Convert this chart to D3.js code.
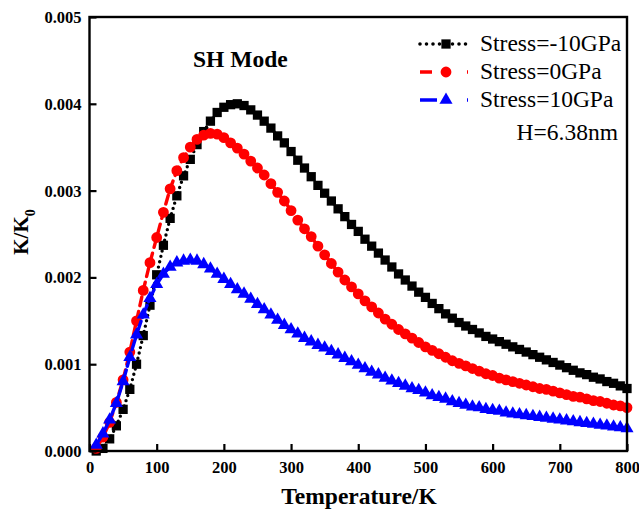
<!DOCTYPE html>
<html>
<head>
<meta charset="utf-8">
<script src="https://cdn.jsdelivr.net/npm/d3@7"></script>
<style>
  html, body { margin: 0; padding: 0; background: #fff; }
  svg { display: block; }
</style>
</head>
<body>
<svg id="chart" width="639" height="514"></svg>
<script>
// ---------------- data ----------------
const temperature = [10,20,30,40,50,60,70,80,90,100,110,120,130,140,150,160,170,180,190,200,
  210,220,230,240,250,260,270,280,290,300,310,320,330,340,350,360,370,380,390,400,
  410,420,430,440,450,460,470,480,490,500,510,520,530,540,550,560,570,580,590,600,
  610,620,630,640,650,660,670,680,690,700,710,720,730,740,750,760,770,780,790,800];

const stressMinus10 = [0.00000,0.00003,0.00014,0.00029,0.00048,0.00071,0.00100,0.00133,0.00168,0.00203,
  0.00237,0.00268,0.00294,0.00317,0.00336,0.00353,0.00368,0.00380,0.00390,0.00396,
  0.00399,0.00400,0.00398,0.00393,0.00387,0.00380,0.00372,0.00363,0.00355,0.00345,
  0.00335,0.00326,0.00316,0.00306,0.00297,0.00288,0.00279,0.00270,0.00261,0.00253,
  0.00244,0.00236,0.00228,0.00220,0.00212,0.00204,0.00197,0.00190,0.00183,0.00177,
  0.00170,0.00164,0.00158,0.00153,0.00148,0.00144,0.00140,0.00136,0.00132,0.00129,
  0.00126,0.00123,0.00120,0.00117,0.00114,0.00111,0.00108,0.00105,0.00102,0.00099,
  0.00096,0.00093,0.00090,0.00088,0.00085,0.00083,0.00080,0.00078,0.00075,0.00072];

const stress0 = [0.00003,0.00016,0.00033,0.00056,0.00082,0.00114,0.00150,0.00185,0.00217,0.00246,
  0.00275,0.00302,0.00323,0.00338,0.00350,0.00359,0.00364,0.00366,0.00365,0.00361,
  0.00355,0.00349,0.00342,0.00334,0.00326,0.00318,0.00308,0.00298,0.00288,0.00277,
  0.00266,0.00256,0.00247,0.00236,0.00226,0.00216,0.00206,0.00197,0.00189,0.00181,
  0.00173,0.00166,0.00159,0.00152,0.00146,0.00140,0.00135,0.00130,0.00125,0.00120,
  0.00116,0.00112,0.00108,0.00104,0.00101,0.00098,0.00095,0.00092,0.00089,0.00087,
  0.00084,0.00082,0.00080,0.00078,0.00076,0.00074,0.00072,0.00071,0.00069,0.00067,
  0.00065,0.00063,0.00062,0.00060,0.00058,0.00057,0.00055,0.00053,0.00052,0.00050];

const stressPlus10 = [0.00007,0.00020,0.00036,0.00055,0.00080,0.00108,0.00134,0.00157,0.00176,0.00192,
  0.00204,0.00212,0.00217,0.00219,0.00220,0.00219,0.00215,0.00210,0.00204,0.00198,
  0.00192,0.00186,0.00181,0.00175,0.00169,0.00163,0.00157,0.00151,0.00145,0.00140,
  0.00135,0.00130,0.00126,0.00122,0.00119,0.00115,0.00111,0.00107,0.00103,0.00099,
  0.00095,0.00091,0.00088,0.00084,0.00081,0.00078,0.00075,0.00072,0.00070,0.00067,
  0.00064,0.00062,0.00060,0.00057,0.00055,0.00053,0.00051,0.00050,0.00048,0.00047,
  0.00046,0.00044,0.00043,0.00042,0.00041,0.00040,0.00039,0.00038,0.00037,0.00036,
  0.00035,0.00034,0.00033,0.00032,0.00031,0.00030,0.00029,0.00028,0.00027,0.00026];

const seriesNames = ["Stress=-10GPa", "Stress=0GPa", "Stress=10GPa"];
const xTicks = [0,100,200,300,400,500,600,700,800];
const yTicks = [0.000,0.001,0.002,0.003,0.004,0.005];

// ---------------- layout ----------------
const svg = d3.select("#chart");
const L = 89.5, R = 627, T = 17, B = 451;
const x = d3.scaleLinear().domain([0, 800]).range([L, R]);
const y = d3.scaleLinear().domain([0, 0.005]).range([B, T]);
const serif = "'Liberation Serif', 'Times New Roman', serif";

const series = [
  {name: seriesNames[0], values: stressMinus10, color: "#000000", dash: "0,5.5", marker: "square"},
  {name: seriesNames[1], values: stress0, color: "#ff0000", dash: "9,6", marker: "circle"},
  {name: seriesNames[2], values: stressPlus10, color: "#0000ff", dash: "13,4", marker: "triangle"}
];

const symbolFor = {
  square: d3.symbol().type(d3.symbolSquare).size(86),
  circle: d3.symbol().type(d3.symbolCircle).size(92),
  triangle: d3.symbol().type(d3.symbolTriangle).size(74)
};

const plot = svg.append("g");
const line = d3.line().x((d, i) => x(temperature[i])).y(d => y(d));

series.forEach(s => {
  const g = plot.append("g");
  g.append("path")
    .datum(s.values)
    .attr("d", line)
    .attr("fill", "none")
    .attr("stroke", s.color)
    .attr("stroke-width", 3.4)
    .attr("stroke-linecap", "round")
    .attr("stroke-dasharray", s.dash);
  g.selectAll("path.m")
    .data(s.values)
    .enter().append("path")
    .attr("class", "m")
    .attr("d", symbolFor[s.marker])
    .attr("transform", (d, i) => `translate(${x(temperature[i])},${y(d)})`)
    .attr("fill", s.color);
});

// ---------------- axes ----------------
const xAxis = d3.axisBottom(x).tickValues(xTicks).tickSize(-7).tickPadding(10)
  .tickFormat(d3.format("d"));
const gx = svg.append("g").attr("transform", `translate(0,${B})`).call(xAxis);
const yAxis = d3.axisLeft(y).tickValues(yTicks).tickSize(-7).tickPadding(8)
  .tickFormat(d3.format(".3f"));
const gy = svg.append("g").attr("transform", `translate(${L},0)`).call(yAxis);

[gx, gy].forEach(g => {
  g.attr("font-family", serif);
  g.select(".domain").remove();
  g.selectAll(".tick line").attr("stroke", "#000").attr("stroke-width", 2.2);
  g.selectAll(".tick text")
    .attr("fill", "#000")
    .style("font-family", serif)
    .style("font-weight", "bold")
    .style("font-size", "16.5px");
});
gx.selectAll(".tick text").attr("dy", "0.75em");
gy.selectAll(".tick text").attr("dy", "0.33em");

// frame
svg.append("rect")
  .attr("x", L).attr("y", T)
  .attr("width", R - L).attr("height", B - T)
  .attr("fill", "none").attr("stroke", "#000").attr("stroke-width", 2.4);

// axis titles
svg.append("text")
  .attr("x", 359).attr("y", 504)
  .attr("text-anchor", "middle")
  .style("font-family", serif).style("font-weight", "bold").style("font-size", "23.5px")
  .text("Temperature/K");

const yt = svg.append("text")
  .attr("transform", `translate(28,232) rotate(-90)`)
  .attr("text-anchor", "middle")
  .style("font-family", serif).style("font-weight", "bold").style("font-size", "21px");
yt.append("tspan").text("K/K");
yt.append("tspan").attr("dy", 7).style("font-size", "14px").text("0");

// annotation
svg.append("text")
  .attr("x", 193).attr("y", 67)
  .style("font-family", serif).style("font-weight", "bold").style("font-size", "23.5px")
  .text("SH Mode");

// ---------------- legend ----------------
const legRows = [44, 72, 100];
const legDash = ["0,6.5", "12,35,12", "17,30,16"];
series.forEach((s, i) => {
  const ly = legRows[i];
  svg.append("line")
    .attr("x1", 420).attr("x2", 468).attr("y1", ly).attr("y2", ly)
    .attr("stroke", s.color).attr("stroke-width", 3.6)
    .attr("stroke-linecap", i === 0 ? "round" : "butt")
    .attr("stroke-dasharray", legDash[i]);
  svg.append("path")
    .attr("d", symbolFor[s.marker])
    .attr("transform", `translate(446,${ly})`)
    .attr("fill", s.color);
  svg.append("text")
    .attr("x", 480).attr("y", ly + 7)
    .style("font-family", serif).style("font-size", "23.5px")
    .attr("fill", "#000")
    .text(s.name);
});
svg.append("text")
  .attr("x", 618).attr("y", 140)
  .attr("text-anchor", "end")
  .style("font-family", serif).style("font-size", "23.5px")
  .text("H=6.38nm");
</script>
</body>
</html>
